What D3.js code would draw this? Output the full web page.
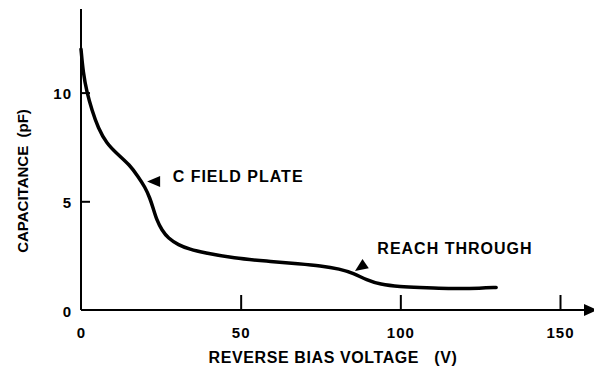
<!DOCTYPE html>
<html>
<head>
<meta charset="utf-8">
<script src="https://cdn.jsdelivr.net/npm/d3@7"></script>
<style>
  body { margin: 0; background: #fff; }
  text { font-family: "Liberation Sans", Arial, sans-serif; font-weight: bold; fill: #000; }
</style>
</head>
<body>
<div class="canvas"></div>
<script>
const width = 594;
const height = 370;

// Data
const voltage = [0, 0.7, 1.8, 3.4, 5.4, 8, 11.2, 15.3, 17.9, 20, 21.6, 22.6, 23.7, 25.3, 27.3, 30.5, 34.1, 38.3, 48, 58, 68.6, 74.9, 81.1, 85.3, 89.5, 93.6, 99.9, 106.2, 112, 118, 125, 130];
const capacitance = [12.0, 10.9, 10.04, 9.2, 8.36, 7.67, 7.2, 6.67, 6.13, 5.67, 5.14, 4.68, 4.14, 3.68, 3.3, 2.99, 2.79, 2.64, 2.38, 2.25, 2.12, 2.04, 1.89, 1.69, 1.38, 1.18, 1.07, 1.03, 1.0, 0.99, 1.0, 1.04];
const xTicks = [0, 50, 100, 150];
const yTicks = [0, 5, 10];

// Annotations: label position and arrow tip, in data units
const labels = ["C FIELD PLATE", "REACH THROUGH"];
const labelAt = [[28.7, 5.9], [92.8, 2.58]];
const arrowTip = [[20.7, 5.91], [85.8, 1.79]];
const arrowAngle = [180, 145];

const data = voltage.map((v, i) => [v, capacitance[i]]);

// Scales
const xScale = d3.scaleLinear().domain([0, 150]).range([81, 560]);
const yScale = d3.scaleLinear().domain([0, 10]).range([310, 92.6]);

const svg = d3
  .select(".canvas")
  .append("svg")
  .attr("width", width)
  .attr("height", height);

// Axis lines
svg.append("line")
  .attr("x1", xScale(0)).attr("x2", xScale(0))
  .attr("y1", 9).attr("y2", yScale(0))
  .attr("stroke", "#000").attr("stroke-width", 2);
svg.append("line")
  .attr("x1", xScale(0)).attr("x2", 588)
  .attr("y1", yScale(0)).attr("y2", yScale(0))
  .attr("stroke", "#000").attr("stroke-width", 2);
svg.append("path")
  .attr("d", `M584,${yScale(0) - 6}L597,${yScale(0)}L584,${yScale(0) + 6}Z`)
  .attr("fill", "#000");

// Axes
const xAxis = d3.axisBottom(xScale).tickValues(xTicks).tickSize(-15).tickPadding(17);
const yAxis = d3.axisLeft(yScale).tickValues(yTicks).tickSize(-9).tickPadding(9);

const gx = svg.append("g")
  .attr("transform", `translate(0,${yScale(0)})`)
  .call(xAxis);
const gy = svg.append("g")
  .attr("transform", `translate(${xScale(0)},0)`)
  .call(yAxis);

[gx, gy].forEach(g => {
  g.select(".domain").remove();
  g.selectAll(".tick line").attr("stroke", "#000").attr("stroke-width", 2);
  g.selectAll(".tick text").style("font-size", "15px").style("letter-spacing", "1px");
});
gx.selectAll(".tick").filter(d => d === 0).select("line").remove();
gy.selectAll(".tick").filter(d => d === 0).select("line").remove();
gy.selectAll(".tick text").attr("dy", "0.4em");

// Axis titles
svg.append("text")
  .attr("x", 333)
  .attr("y", 363)
  .attr("text-anchor", "middle")
  .style("font-size", "16px")
  .style("letter-spacing", "0.6px")
  .attr("xml:space", "preserve")
  .text("REVERSE BIAS VOLTAGE   (V)");

svg.append("text")
  .attr("transform", "translate(28,181) rotate(-90)")
  .attr("text-anchor", "middle")
  .style("font-size", "15px")
  .attr("xml:space", "preserve")
  .text("CAPACITANCE  (pF)");

// Curve
const line = d3.line()
  .x(d => xScale(d[0]))
  .y(d => yScale(d[1]))
  .curve(d3.curveBasis);

svg.append("path")
  .datum(data)
  .attr("d", line)
  .attr("fill", "none")
  .attr("stroke", "#000")
  .attr("stroke-width", 3.5)
  .attr("stroke-linecap", "round")
  .attr("stroke-linejoin", "round");

// Annotations
labels.forEach((t, i) => {
  svg.append("text")
    .attr("x", xScale(labelAt[i][0]))
    .attr("y", yScale(labelAt[i][1]))
    .style("font-size", "16px")
    .style("letter-spacing", "1px")
    .text(t);

  svg.append("path")
    .attr("d", "M0,0L13,-5.5L13,5.5Z")
    .attr("transform", `translate(${xScale(arrowTip[i][0])},${yScale(arrowTip[i][1])}) rotate(${arrowAngle[i] - 180})`)
    .attr("fill", "#000");
});
</script>
</body>
</html>
